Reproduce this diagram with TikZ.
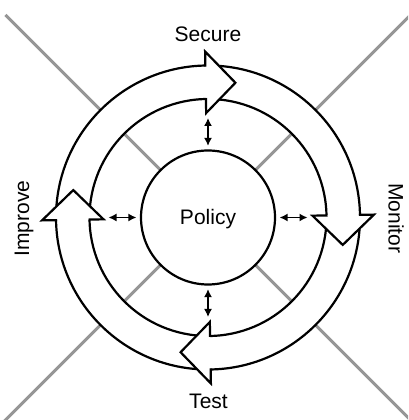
\documentclass[tikz,border=0pt]{standalone}
\usepackage{fontspec}
\setmainfont{Liberation Sans}
\usetikzlibrary{arrows.meta}
\definecolor{diaggray}{RGB}{150,150,150}
\tikzset{
  ringline/.style={line width=2.2pt, draw=black},
  diag/.style={line width=3pt, draw=diaggray},
  dbl/.style={line width=1.5pt, {Latex[length=8pt,width=8pt]}-{Latex[length=8pt,width=8pt]}, shorten <=3.5pt, shorten >=5pt},
  lbl/.style={font=\fontsize{21}{25}\selectfont, inner sep=0pt},
}
\begin{document}
\begin{tikzpicture}[x=1pt,y=1pt]
\useasboundingbox (0,0) rectangle (408,420);
\clip (0,0) rectangle (408,420);
\coordinate (c) at (208,202.5);
% gray diagonals
\draw[diag] (c) -- ++(135:286.5);
\draw[diag] (c) -- ++(45:330);
\draw[diag] (c) -- ++(-45:330);
\draw[diag] (c) -- ++(-135:330);
% ring
\fill[white, even odd rule] (c) circle (152pt) (c) circle (118.5pt);
\draw[ringline] (c) circle (152pt);
\draw[ringline] (c) circle (118.5pt);
% arrow heads
\begin{scope}[shift={(c)}]
  \foreach \t in {90,0,-90,-180} {
    \fill[white] (\t+1:104.5pt) -- (\t+1:166pt) -- (\t-11.5:137.5pt) -- cycle;
    \draw[ringline, line join=miter] (\t+1:119.5pt) -- (\t+1:104.5pt) -- (\t-11.5:137.5pt) -- (\t+1:166pt) -- (\t+1:151pt);
  }
  \coordinate (hS) at (90:104.5pt);
  \coordinate (hM) at (0:104.5pt);
  \coordinate (hT) at (-90:104.5pt);
  \coordinate (hI) at (180:104.5pt);
\end{scope}
% center
\node[circle, ringline, fill=white, minimum size=134pt, lbl, text height=15pt, text depth=0pt] (policy) at (c) {Policy};
% double arrows
\draw[dbl] (policy) -- (hS);
\draw[dbl] (policy) -- (hM);
\draw[dbl] (policy) -- (hT);
\draw[dbl] (policy) -- (hI);
% labels
\node[lbl, anchor=base] (secure) at (208,378) {Secure};
\node[lbl, anchor=base] (test) at (208.5,12) {Test};
\node[lbl, anchor=base, rotate=-90] (monitor) at (388.5,201.5) {Monitor};
\node[lbl, anchor=base, rotate=90] (improve) at (29,201.5) {Improve};
\end{tikzpicture}
\end{document}
